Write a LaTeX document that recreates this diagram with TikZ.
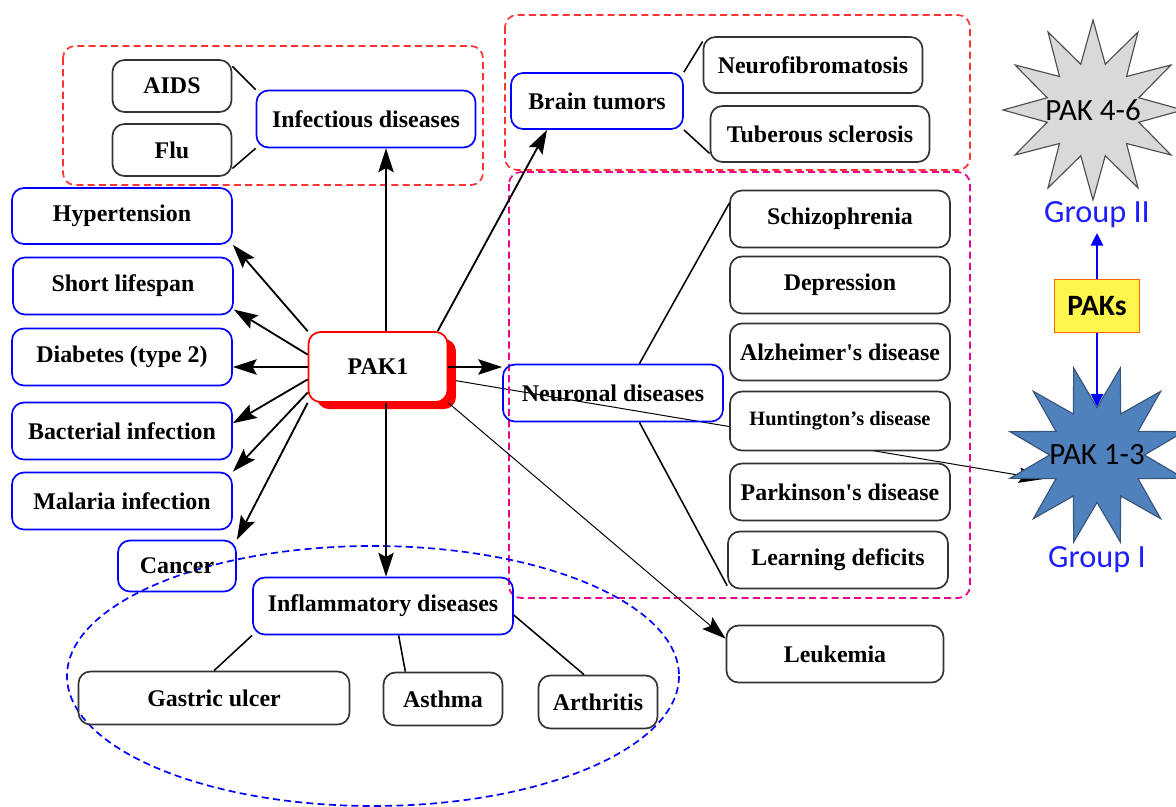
\documentclass[tikz,border=0pt]{standalone}
\usepackage{fontspec}
\setmainfont{Liberation Serif}
\newfontfamily\calibri{Carlito}
\usetikzlibrary{arrows.meta,shapes.geometric,shadows,backgrounds}
\definecolor{pakblue}{RGB}{79,129,189}
\definecolor{pakedge}{RGB}{56,83,120}
\definecolor{groupblue}{RGB}{30,30,255}

\begin{document}
\begin{tikzpicture}[x=0.025cm,y=-0.025cm,
    every node/.style={font=\fontsize{17}{20}\selectfont\bfseries},
    bluebox/.style={draw=blue,rounded corners=0.3cm,line width=1.2pt,minimum width=5.5cm,minimum height=1.425cm},
    greybox/.style={draw=black!80,rounded corners=0.3cm,line width=1.2pt,minimum width=5.5cm,minimum height=1.425cm},
    pakbox/.style={draw=red,fill=white,rounded corners=0.3cm,line width=1.2pt,minimum width=3.475cm,minimum height=1.75cm,
        drop shadow={fill=red,opacity=1,shadow xshift=6pt,shadow yshift=-5pt}},
    pakstar/.style={star,star points=12,star point ratio=1.9,minimum size=4.5cm,inner sep=0pt,line width=0.8pt,
        font=\calibri\fontsize{22}{26}\selectfont},
    grouptext/.style={text=groupblue,font=\calibri\fontsize{23}{27}\selectfont},
    arr/.style={-{Stealth[length=17pt,width=11pt,inset=3pt]},line width=1.3pt},
    barr/.style={-{Triangle[length=9pt,width=9pt]},draw=blue,line width=0.8pt},
    link/.style={line width=1.1pt},
    group/.style={dash pattern=on 5pt off 3pt,line width=1.2pt,rounded corners=0.3cm}]
    \useasboundingbox (0,0) rectangle (1176,807);
    \draw [group,red!80] (63,46) rectangle (483,185);
    \draw [group,red!80] (505,15) rectangle (970,170);
    \draw [group,magenta] (509,172) rectangle (970,598);
    \draw [group,blue] (373,676) ellipse [x radius=306,y radius=130];
    \node (aids) [greybox,minimum width=2.975cm,minimum height=1.3cm] at (172,86) {AIDS};
    \node (flu) [greybox,minimum width=2.975cm,minimum height=1.3cm] at (172,150) {Flu};
    \node (infect) [bluebox,minimum width=5.475cm] at (366,119) {Infectious diseases};
    \node (hyper) [bluebox,minimum height=1.4cm] at (122,216) {Hypertension};
    \node (short) [bluebox] at (123,286) {Short lifespan};
    \node (diab) [bluebox] at (122,357) {Diabetes (type 2)};
    \node (bact) [bluebox] at (122,431) {Bacterial infection};
    \node (malaria) [bluebox] at (122,501) {Malaria infection};
    \node (cancer) [bluebox,minimum width=2.95cm,minimum height=1.275cm] at (177,566) {Cancer};
    \node (pak1) [pakbox] at (378,367) {PAK1};
    \node (brain) [bluebox,minimum width=4.3cm,minimum height=1.4cm] at (597,101) {Brain tumors};
    \node (neurofib) [greybox,minimum width=5.475cm,minimum height=1.4cm] at (813,65) {Neurofibromatosis};
    \node (tuber) [greybox,minimum width=5.475cm,minimum height=1.4cm] at (820,134) {Tuberous sclerosis};
    \node (neuro) [bluebox] at (613,393) {Neuronal diseases};
    \node (schizo) [greybox] at (840,219) {Schizophrenia};
    \node (depress) [greybox] at (840,285) {Depression};
    \node (alz) [greybox] at (840,352) {Alzheimer\textquotesingle s disease};
    \node (hunt) [greybox,fill=white,minimum height=1.475cm,font=\fontsize{14.5}{17}\selectfont\bfseries] at (840,421) {Huntington’s disease};
    \node (park) [greybox] at (840,492) {Parkinson\textquotesingle s disease};
    \node (learn) [greybox] at (838,560) {Learning deficits};
    \node (leuk) [greybox,minimum width=5.425cm] at (835,654) {Leukemia};
    \node (inflam) [bluebox,minimum width=6.5cm] at (383,606) {Inflammatory diseases};
    \node (gastric) [greybox,minimum width=6.775cm,minimum height=1.325cm] at (214,698) {Gastric ulcer};
    \node (asthma) [greybox,minimum width=2.975cm,minimum height=1.325cm] at (443,699) {Asthma};
    \node (arth) [greybox,minimum width=2.975cm,minimum height=1.325cm] at (598,702) {Arthritis};
    \node (pak46) [pakstar,draw=black!70,fill=black!15] at (1093,110) {\makebox[0pt]{PAK 4-6}};
    \node (g2) [grouptext] at (1097,215) {Group II};
    \node (paks) [draw=orange!80!red,fill=yellow!70,minimum width=2.125cm,minimum height=1.325cm,
        font=\calibri\fontsize{21}{25}\selectfont\bfseries] at (1097,306) {PAKs};
    \node (pak13) [pakstar,draw=pakedge,fill=pakblue,shape border rotate=15] at (1097,455) {\makebox[0pt]{PAK 1-3}};
    \node (g1) [grouptext] at (1097,560) {Group I};
    \begin{scope}[on background layer]
        \draw [arr,line width=0.7pt] (pak1.-10) -- (pak13.204);
    \end{scope}
    \draw [arr] ([xshift=0.2cm]pak1.north) -- ([xshift=0.2cm]pak1.north |- infect.south);
    \draw [arr] (pak1.31) -- (brain.210);
    \draw [arr] (pak1.north west) -- (hyper.south east);
    \draw [arr] (pak1.170) -- (short.-12);
    \draw [arr] (pak1.west) -- (pak1.west -| diab.east);
    \draw [arr] (pak1.190) -- (bact.4);
    \draw [arr] (pak1.200) -- (malaria.north east);
    \draw [arr] (pak1.south west) -- (cancer.north east);
    \draw [arr] ([xshift=0.2cm]pak1.south) -- ([xshift=0.2cm]pak1.south |- inflam.north);
    \draw [arr] (pak1.east) -- (pak1.east -| neuro.west);
    \draw [arr,line width=0.7pt] (pak1.south east) -- (leuk.172);
    \draw [link] (aids.18) -- (infect.north west);
    \draw [link] (flu.-17) -- (infect.south west);
    \draw [link] (brain.north east) -- (neurofib.168);
    \draw [link] (brain.south east) -- (tuber.190);
    \draw [link] (neuro.48) -- (schizo.172);
    \draw [link] (neuro.-48) -- (learn.193);
    \draw [link] (inflam.south west) -- (gastric.north);
    \draw [link] (inflam.-62) -- (asthma.144);
    \draw [link] (inflam.-4) -- (arth.117);
    \draw [barr] (paks) -- (g2);
    \draw [barr] (paks) -- (pak13);
\end{tikzpicture}
\end{document}
